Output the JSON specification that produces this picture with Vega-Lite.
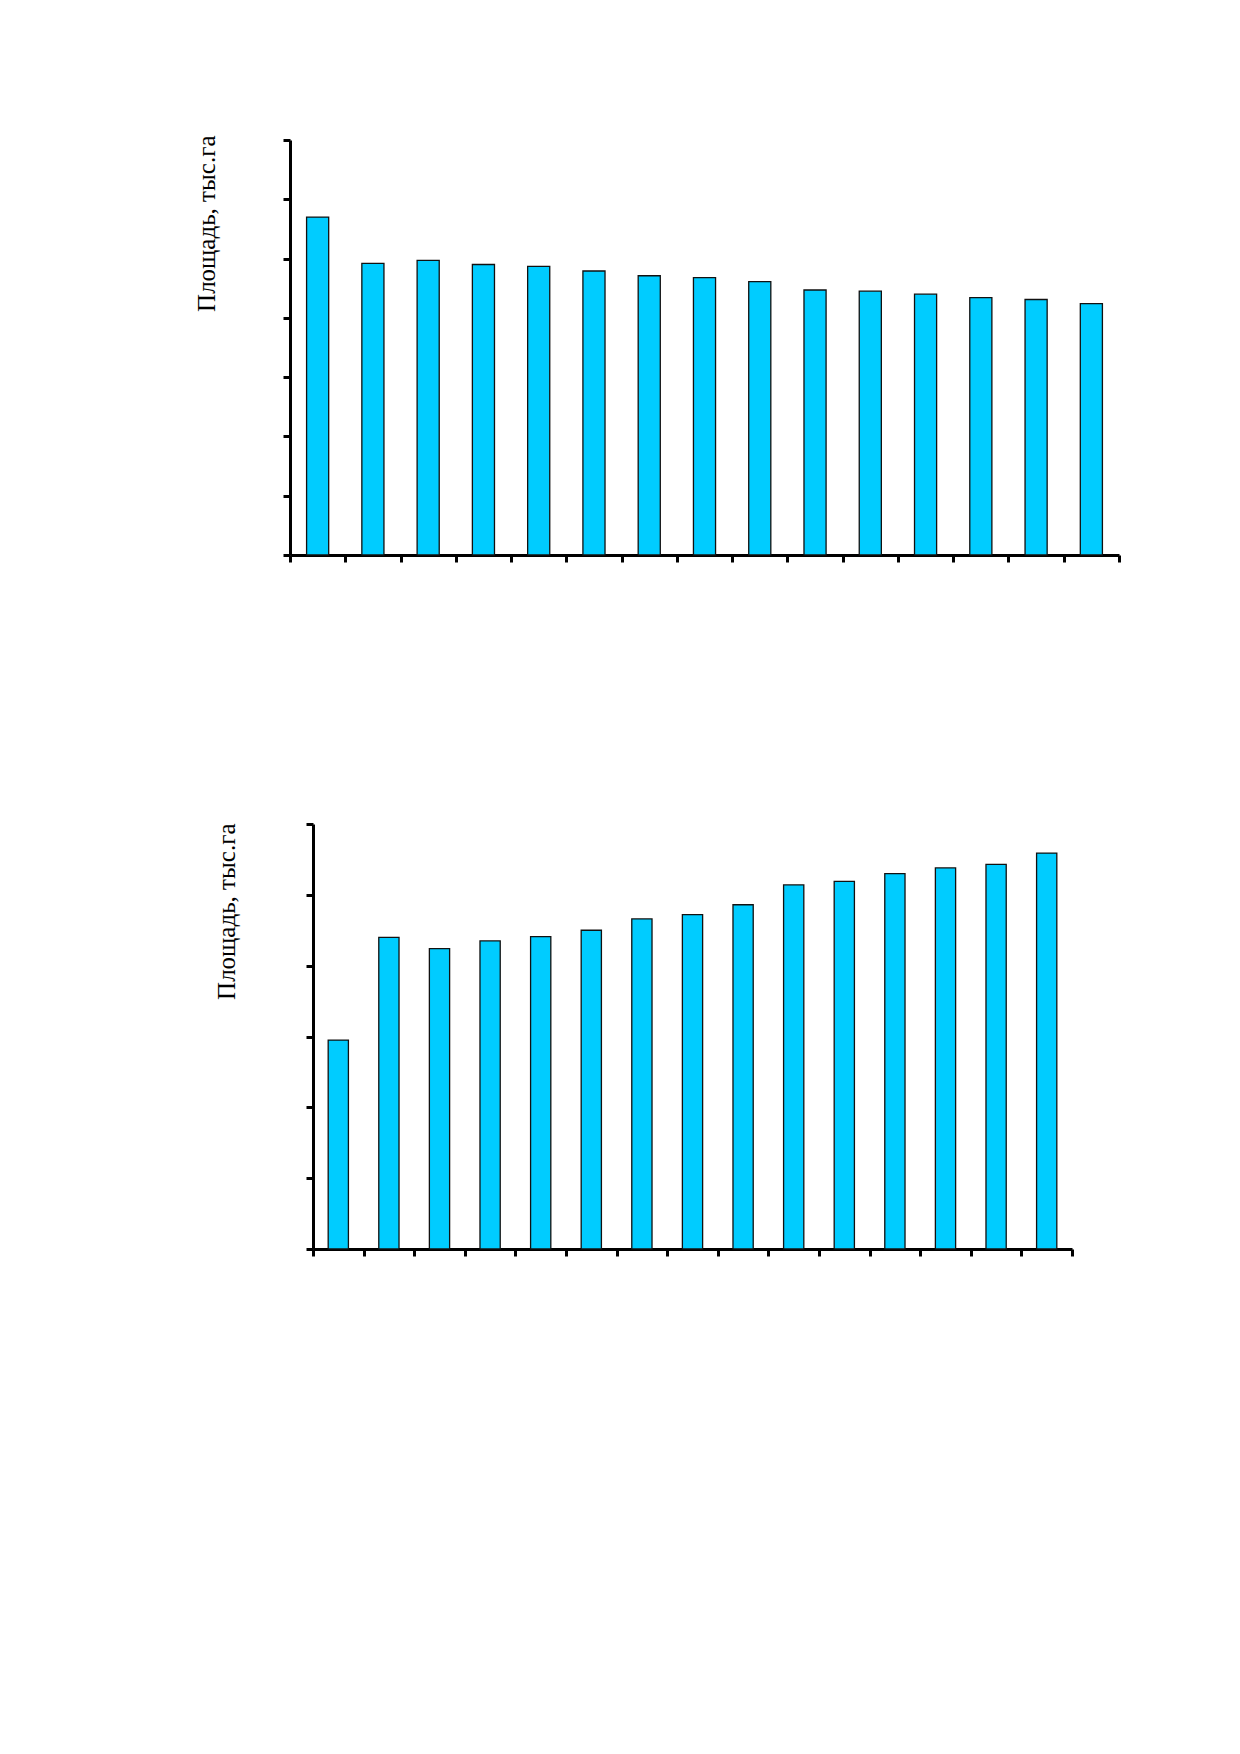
{
  "$schema": "https://vega.github.io/schema/vega-lite/v6.json",
  "background": "white",
  "padding": {"left": 193, "top": 135, "right": 10, "bottom": 10},
  "bounds": "flush",
  "spacing": 269,
  "datasets": {
    "top": [
      {"n": 1, "area": 5.70}, {"n": 2, "area": 4.92}, {"n": 3, "area": 4.97},
      {"n": 4, "area": 4.90}, {"n": 5, "area": 4.87}, {"n": 6, "area": 4.79},
      {"n": 7, "area": 4.71}, {"n": 8, "area": 4.68}, {"n": 9, "area": 4.61},
      {"n": 10, "area": 4.47}, {"n": 11, "area": 4.45}, {"n": 12, "area": 4.40},
      {"n": 13, "area": 4.34}, {"n": 14, "area": 4.31}, {"n": 15, "area": 4.24}
    ],
    "bottom": [
      {"n": 1, "area": 2.95}, {"n": 2, "area": 4.40}, {"n": 3, "area": 4.24},
      {"n": 4, "area": 4.35}, {"n": 5, "area": 4.41}, {"n": 6, "area": 4.50},
      {"n": 7, "area": 4.66}, {"n": 8, "area": 4.72}, {"n": 9, "area": 4.86},
      {"n": 10, "area": 5.14}, {"n": 11, "area": 5.19}, {"n": 12, "area": 5.30},
      {"n": 13, "area": 5.38}, {"n": 14, "area": 5.43}, {"n": 15, "area": 5.59}
    ]
  },
  "vconcat": [
    {
      "width": 829,
      "height": 415,
      "data": {"name": "top"},
      "mark": {"type": "bar", "width": {"band": 0.4}, "fill": "#00CCFF", "stroke": "#111111", "strokeWidth": 1.3},
      "encoding": {
        "x": {
          "field": "n",
          "type": "ordinal",
          "scale": {"paddingInner": 0, "paddingOuter": 0},
          "axis": {"labels": false, "title": null, "tickBand": "extent"}
        },
        "y": {
          "field": "area",
          "type": "quantitative",
          "scale": {"domain": [0, 7], "nice": false},
          "axis": {
            "values": [0, 1, 2, 3, 4, 5, 6, 7],
            "labels": false,
            "title": "Площадь, тыс.га",
            "titleAngle": -90,
            "titleX": -84,
            "titleY": -5,
            "titleAlign": "right",
            "titleBaseline": "middle"
          }
        }
      }
    },
    {
      "width": 782,
      "height": 425,
      "data": {"name": "bottom"},
      "mark": {"type": "bar", "width": {"band": 0.4}, "fill": "#00CCFF", "stroke": "#111111", "strokeWidth": 1.3},
      "encoding": {
        "x": {
          "field": "n",
          "type": "ordinal",
          "scale": {"paddingInner": 0, "paddingOuter": 0, "range": [23, 782]},
          "axis": {"labels": false, "title": null, "tickBand": "extent"}
        },
        "y": {
          "field": "area",
          "type": "quantitative",
          "scale": {"domain": [0, 6], "nice": false},
          "axis": {
            "values": [0, 1, 2, 3, 4, 5, 6],
            "labels": false,
            "offset": -23,
            "title": "Площадь, тыс.га",
            "titleAngle": -90,
            "titleX": -87,
            "titleY": -1,
            "titleAlign": "right",
            "titleBaseline": "middle"
          }
        }
      }
    }
  ],
  "config": {
    "view": {"stroke": null},
    "axis": {
      "grid": false,
      "domainColor": "black",
      "domainWidth": 3,
      "tickColor": "black",
      "tickWidth": 3,
      "tickSize": 7,
      "titleFont": "Liberation Serif",
      "titleFontSize": 25,
      "titleFontWeight": "normal",
      "titleColor": "black"
    }
  }
}
